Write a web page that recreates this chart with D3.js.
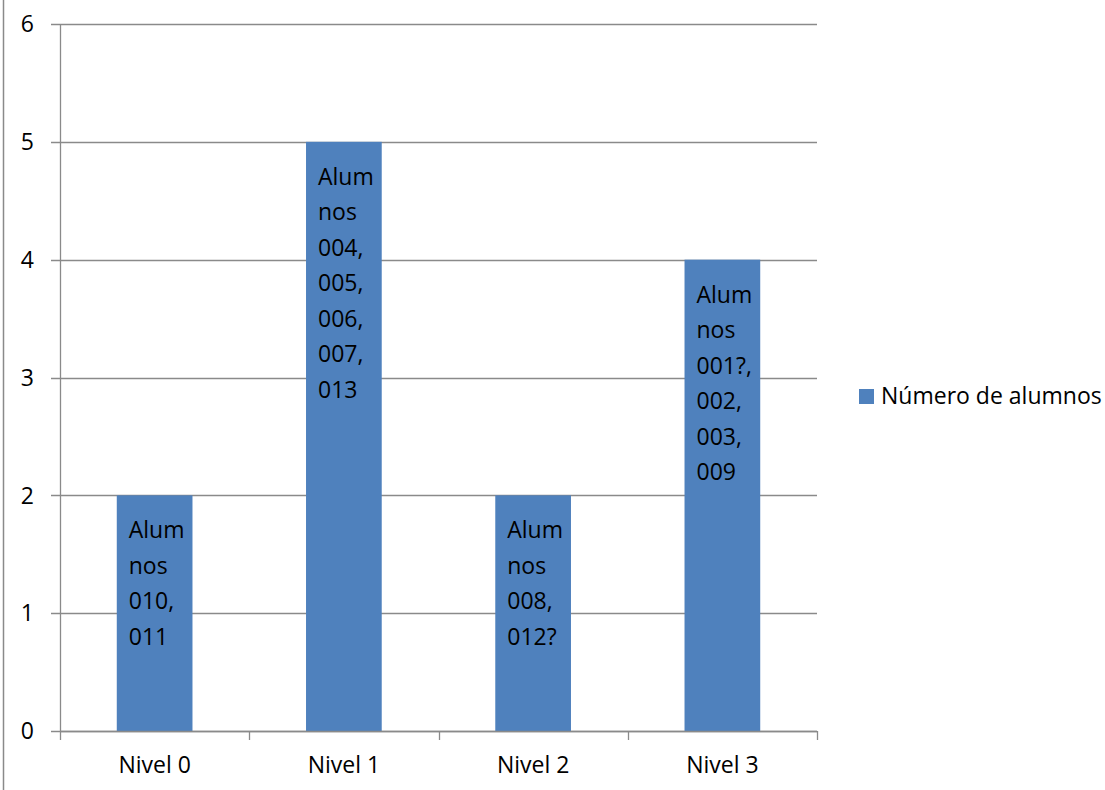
<!DOCTYPE html>
<html>
<head>
<meta charset="utf-8">
<script src="https://cdn.jsdelivr.net/npm/d3@7"></script>
<style>
  html, body { margin: 0; padding: 0; background: #fff; }
  svg { display: block; font-family: "Open Sans", sans-serif; }
</style>
</head>
<body>
<svg id="chart" width="1105" height="790"></svg>
<script>
// Chart data
const categories = ["Nivel 0", "Nivel 1", "Nivel 2", "Nivel 3"];
const values = [2, 5, 2, 4];
const barLabels = [
  "Alumnos 010, 011",
  "Alumnos 004, 005, 006, 007, 013",
  "Alumnos 008, 012?",
  "Alumnos 001?, 002, 003, 009"
];
const yTicks = [0, 1, 2, 3, 4, 5, 6];
const seriesName = "Número de alumnos";

const barColor = "#4F81BD";
const lineColor = "#8a8a8a";
const fontSize = 23;

const svg = d3.select("#chart");
const plot = { left: 60, right: 817, top: 24, bottom: 731 };

const x = d3.scaleBand()
  .domain(categories)
  .range([plot.left, plot.right])
  .paddingInner(0.6)
  .paddingOuter(0.3);

const y = d3.scaleLinear()
  .domain([0, 6])
  .range([plot.bottom, plot.top]);

// Outer frame edge on the left
svg.append("line")
  .attr("x1", 3.5).attr("x2", 3.5)
  .attr("y1", 0).attr("y2", 790)
  .attr("stroke", lineColor).attr("stroke-width", 1.5);

// Horizontal gridlines (extending left past the axis as tick marks)
svg.append("g")
  .selectAll("line")
  .data(yTicks)
  .join("line")
  .attr("x1", plot.left - 9)
  .attr("x2", plot.right)
  .attr("y1", d => Math.round(y(d)) + 0.5)
  .attr("y2", d => Math.round(y(d)) + 0.5)
  .attr("stroke", lineColor)
  .attr("stroke-width", 1.3);

// Y axis labels
svg.append("g")
  .selectAll("text")
  .data(yTicks)
  .join("text")
  .attr("x", 34)
  .attr("y", d => y(d))
  .attr("dy", "0.36em")
  .attr("text-anchor", "end")
  .attr("font-size", fontSize)
  .attr("fill", "#000")
  .text(d => d);

// Y axis line
svg.append("line")
  .attr("x1", plot.left + 0.5).attr("x2", plot.left + 0.5)
  .attr("y1", plot.top).attr("y2", plot.bottom)
  .attr("stroke", lineColor).attr("stroke-width", 1.3);

// Bars
svg.append("g")
  .selectAll("rect")
  .data(values)
  .join("rect")
  .attr("x", (d, i) => x(categories[i]))
  .attr("y", d => y(d))
  .attr("width", x.bandwidth())
  .attr("height", d => y(0) - y(d))
  .attr("fill", barColor);

// X axis with category-boundary ticks
const xAxis = d3.axisBottom(x).tickSize(0).tickPadding(25);
const gx = svg.append("g")
  .attr("transform", `translate(0,${plot.bottom + 0.5})`)
  .call(xAxis);
gx.select(".domain").remove();
gx.selectAll("text")
  .attr("font-size", fontSize)
  .attr("font-family", "Open Sans, sans-serif")
  .attr("fill", "#000");

svg.append("line")
  .attr("x1", plot.left).attr("x2", plot.right)
  .attr("y1", plot.bottom + 0.5).attr("y2", plot.bottom + 0.5)
  .attr("stroke", lineColor).attr("stroke-width", 1.3);

const boundaries = d3.range(categories.length + 1)
  .map(i => plot.left + i * x.step());
svg.append("g")
  .selectAll("line")
  .data(boundaries)
  .join("line")
  .attr("x1", d => Math.round(d) + 0.5)
  .attr("x2", d => Math.round(d) + 0.5)
  .attr("y1", plot.bottom)
  .attr("y2", plot.bottom + 9)
  .attr("stroke", lineColor)
  .attr("stroke-width", 1.3);

// Wrap label text into lines no wider than maxWidth, splitting long words by character
function wrapLines(text, maxWidth, measure) {
  const words = text.split(" ");
  const lines = [];
  let line = "";
  words.forEach(word => {
    const candidate = line ? line + " " + word : word;
    if (measure(candidate) <= maxWidth) { line = candidate; return; }
    if (line) { lines.push(line); line = ""; }
    if (measure(word) <= maxWidth) { line = word; return; }
    let part = "";
    for (const ch of word) {
      if (measure(part + ch) <= maxWidth) part += ch;
      else { lines.push(part); part = ch; }
    }
    line = part;
  });
  if (line) lines.push(line);
  return lines;
}

const measurer = svg.append("text")
  .attr("font-size", fontSize)
  .attr("visibility", "hidden");
const measure = s => { measurer.text(s); return measurer.node().getComputedTextLength(); };

// Data labels inside the bars
const labelGroup = svg.append("g");
values.forEach((v, i) => {
  const lines = wrapLines(barLabels[i], 62, measure);
  const t = labelGroup.append("text")
    .attr("font-size", fontSize)
    .attr("fill", "#000");
  lines.forEach((ln, k) => {
    t.append("tspan")
      .attr("x", x(categories[i]) + 12)
      .attr("y", y(v) + 43 + k * 35.5)
      .text(ln);
  });
});
measurer.remove();

// Legend
const legend = svg.append("g").attr("transform", "translate(859,389)");
legend.append("rect")
  .attr("width", 15).attr("height", 15)
  .attr("fill", barColor);
legend.append("text")
  .attr("x", 22).attr("y", 14.5)
  .attr("font-size", fontSize)
  .attr("fill", "#000")
  .text(seriesName);
</script>
</body>
</html>
